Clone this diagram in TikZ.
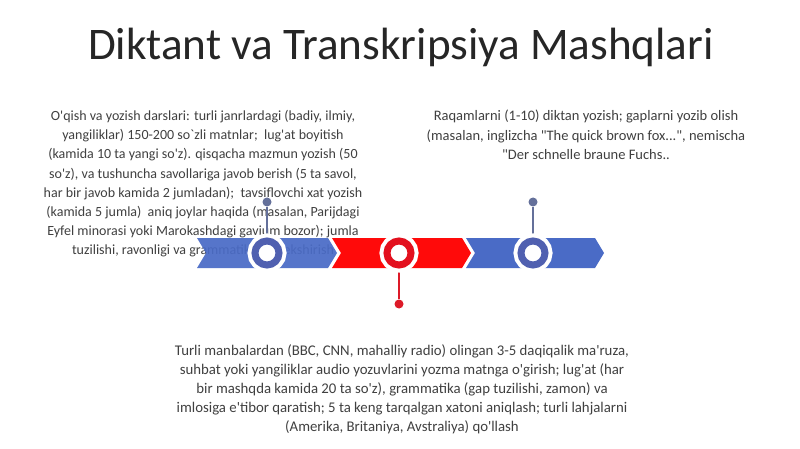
\documentclass[tikz,border=0pt]{standalone}
\usepackage{fontspec}
\setmainfont{Carlito}[Ligatures=TeXOff]
\definecolor{segblue}{HTML}{4A6BC6}
\definecolor{ringblue}{HTML}{5060B0}
\definecolor{stemblue}{HTML}{64709A}
\definecolor{segred}{HTML}{FF0A0A}
\definecolor{ringred}{HTML}{E3101E}
\definecolor{stemred}{HTML}{DD1A28}
\definecolor{txt}{HTML}{404040}
\definecolor{ttl}{HTML}{262626}
\tikzset{
  bodytext/.style={align=center, text=txt, font=\fontsize{#1}{19.2}\selectfont, inner sep=0pt},
  ring/.style={circle, minimum size=24pt, inner sep=0pt, fill=white, line width=7pt, draw=#1,
    preaction={draw=white, line width=15pt}},
  stemdot/.style={circle, minimum size=9pt, inner sep=0pt, fill=#1},
  stemline/.style={line width=1.6pt, draw=#1},
}
\begin{document}
\begin{tikzpicture}[x=1pt,y=-1pt]
\useasboundingbox (0,0) rectangle (800,449);
\fill[white] (0,0) rectangle (800,449);
% title
\node[text=ttl, font=\fontsize{45.2}{50}\selectfont, inner sep=0pt] (title) at (401,47) {Diktant va Transkripsiya Mashqlari};
% text blocks
\node[bodytext=14, anchor=north] (t1) at (203,110) {O'qish va yozish darslari: turli janrlardagi (badiy, ilmiy,\\
yangiliklar) 150-200 so`zli matnlar;\ \ lug'at boyitish\\
(kamida 10 ta yangi so'z). qisqacha mazmun yozish (50\\
so'z), va tushuncha savollariga javob berish (5 ta savol,\\
har bir javob kamida 2 jumladan);\ \ tavsiflovchi xat yozish\\
(kamida 5 jumla)\ \ aniq joylar haqida (masalan, Parijdagi\\
Eyfel minorasi yoki Marokashdagi gavjum bozor); jumla\\
tuzilishi, ravonligi va grammatikasini tekshirish};
\node[bodytext=14.5, anchor=north] (t2) at (586,110) {Raqamlarni (1-10) diktan yozish; gaplarni yozib olish\\
(masalan, inglizcha "The quick brown fox...", nemischa\\
"Der schnelle braune Fuchs..};
\node[bodytext=14.8, anchor=north] (t3) at (402,344) {Turli manbalardan (BBC, CNN, mahalliy radio) olingan 3-5 daqiqalik ma'ruza,\\
suhbat yoki yangiliklar audio yozuvlarini yozma matnga o'girish; lug'at (har\\
bir mashqda kamida 20 ta so'z), grammatika (gap tuzilishi, zamon) va\\
imlosiga e'tibor qaratish; 5 ta keng tarqalgan xatoni aniqlash; turli lahjalarni\\
(Amerika, Britaniya, Avstraliya) qo'llash};
% timeline segments
\fill[segblue, opacity=0.93] (197,238) -- (328,238) -- (337,253) -- (328,268) -- (197,268) -- (206,253) -- cycle;
\fill[segred] (332,238) -- (462,238) -- (471,253) -- (462,268) -- (332,268) -- (341,253) -- cycle;
\fill[segblue] (466,238) -- (595,238) -- (604,253) -- (595,268) -- (466,268) -- (475,253) -- cycle;
% dots
\node[stemdot=stemblue] (d1) at (267,202) {};
\node[stemdot=stemred] (d2) at (399,304) {};
\node[stemdot=stemblue] (d3) at (533,202) {};
% stems
\draw[stemline=stemblue] (d1) -- (267,253);
\draw[stemline=stemred] (d2) -- (399,253);
\draw[stemline=stemblue] (d3) -- (533,253);
% rings
\node[ring=ringblue] (c1) at (267,253) {};
\node[ring=ringred] (c2) at (399,253) {};
\node[ring=ringblue] (c3) at (533,253) {};
\end{tikzpicture}
\end{document}
